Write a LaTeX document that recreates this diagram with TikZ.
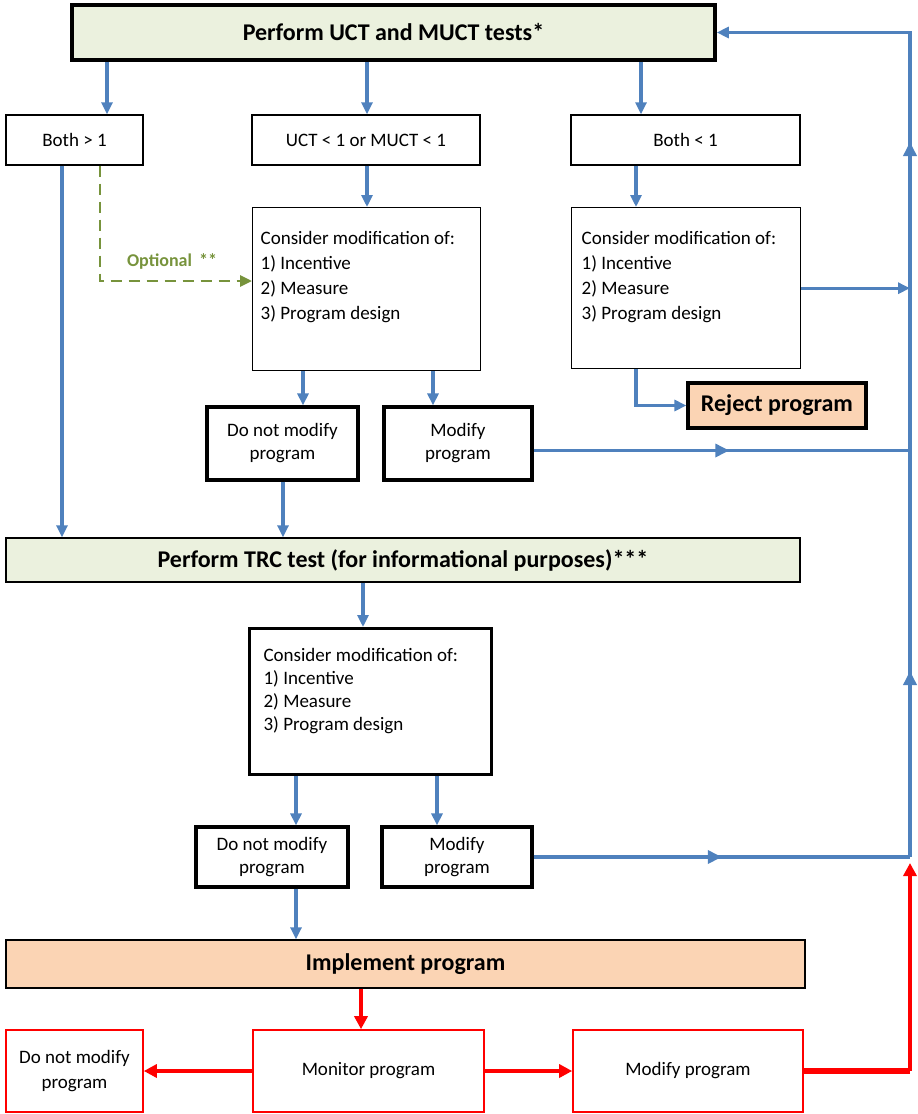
\documentclass[tikz,border=0pt]{standalone}
\usepackage{fontspec}
\setmainfont{Carlito}
\usetikzlibrary{arrows.meta,decorations.markings}
\definecolor{myblue}{RGB}{79,129,189}
\definecolor{mygreen}{RGB}{119,147,60}
\definecolor{boxgreen}{RGB}{235,241,222}
\definecolor{peach}{RGB}{251,212,180}
\definecolor{myred}{RGB}{255,0,0}
\newcommand\considertext[5]{\begin{minipage}[c][#2][t]{#1}\setlength\parindent{0pt}\leftskip=#3\relax\fontsize{19}{#4}\selectfont\rule{0pt}{#5}Consider modification of:\\1) Incentive\\2) Measure\\3) Program design\par\end{minipage}}
\begin{document}
\begin{tikzpicture}[x=1pt,y=-1pt,
  tip/.style={-{Triangle[length=12pt,width=11pt]}},
  thinbox/.style={draw=black,line width=1.4pt,inner sep=0pt,align=center,font=\fontsize{19}{23}\selectfont},
  thickbox/.style={draw=black,line width=3.2pt,inner sep=0pt,align=center,font=\fontsize{19}{23}\selectfont},
  redbox/.style={draw=myred,line width=1.6pt,inner sep=0pt,align=center,font=\fontsize{19}{25}\selectfont},
  titlebox/.style={draw=black,inner sep=0pt,align=center,font=\bfseries\fontsize{24}{28}\selectfont},
  bline/.style={draw=myblue,line width=3.2pt},
  barrow/.style={bline,tip},
  rline/.style={draw=myred,line width=3.6pt},
  rarrow/.style={rline,-{Triangle[length=13pt,width=13pt]}},
  garrow/.style={draw=mygreen,line width=2.8pt,dash pattern=on 11pt off 7pt,-{Triangle[length=12pt,width=11pt]}},
  bmid/.style={postaction={decorate},decoration={markings,mark=at position #1 with {\arrow[myblue]{Triangle[length=14pt,width=13pt]}}}},
]
\useasboundingbox (0,0) rectangle (918,1114);

% nodes
\node[titlebox, fill=boxgreen, line width=3.6pt, minimum width=643pt, minimum height=55pt] (top) at (393.5,32.5) {Perform UCT and MUCT tests*};
\node[thinbox, minimum width=137pt, minimum height=50pt] (b1) at (74.5,140) {Both > 1};
\node[thinbox, minimum width=228pt, minimum height=50pt] (uct) at (366,140) {UCT < 1 or MUCT < 1};
\node[thinbox, minimum width=229pt, minimum height=50pt] (b2) at (685.5,140) {Both < 1};
\node[draw=black, line width=1.4pt, inner sep=0pt, anchor=north west] (cons1) at (252,207) {\considertext{228pt}{163pt}{8pt}{25pt}{37pt}};
\node[draw=black, line width=1.4pt, inner sep=0pt, anchor=north west] (cons2) at (571,207) {\considertext{229pt}{161pt}{10pt}{25pt}{37pt}};
\node[thickbox, minimum width=151pt, minimum height=73pt] (dnm1) at (282.5,443.5) {Do not modify\\program};
\node[thickbox, minimum width=148pt, minimum height=73pt] (mod1) at (458,443.5) {Modify\\program};
\node[thickbox, fill=peach, font=\bfseries\fontsize{24}{28}\selectfont, minimum width=178pt, minimum height=45pt] (reject) at (777,405.5) {Reject program};
\node[titlebox, fill=boxgreen, line width=1.4pt, minimum width=794pt, minimum height=44pt] (trc) at (403,560) {Perform TRC test (for informational purposes)***};
\node[draw=black, line width=3.2pt, inner sep=0pt, anchor=north west] (cons3) at (248,627) {\considertext{242pt}{146pt}{14pt}{23pt}{33pt}};
\node[thickbox, minimum width=152pt, minimum height=60pt] (dnm2) at (272,857) {Do not modify\\program};
\node[thickbox, minimum width=150pt, minimum height=60pt] (mod2) at (457,857) {Modify\\program};
\node[titlebox, fill=peach, line width=1.4pt, minimum width=799pt, minimum height=48pt] (impl) at (405.5,964) {Implement program};
\node[redbox, minimum width=137pt, minimum height=82pt] (dnm3) at (74.5,1071) {Do not modify\\program};
\node[redbox, minimum width=231pt, minimum height=82pt] (mon) at (368.5,1071) {Monitor program};
\node[redbox, minimum width=230pt, minimum height=82pt] (mod3) at (688,1071) {Modify program};
\node[text=mygreen, font=\bfseries\fontsize{18}{20}\selectfont, inner sep=0pt] (opt) at (172,261) {Optional \,**};

% column / row coordinates
\coordinate (cA) at (107,0);
\coordinate (cB) at (367,0);
\coordinate (cC) at (641,0);
\coordinate (cC2) at (636,0);
\coordinate (cD) at (62,0);
\coordinate (cE) at (100,0);
\coordinate (cF) at (303,0);
\coordinate (cG) at (433,0);
\coordinate (cH) at (283,0);
\coordinate (cI) at (363,0);
\coordinate (cJ) at (296,0);
\coordinate (cK) at (437,0);
\coordinate (cL) at (361,0);
\coordinate (cR) at (910,0);
\coordinate (rD) at (0,281);
\coordinate (m1e) at ([yshift=-7pt]mod1.east);
\coordinate (jB) at (910,857);
\coordinate (jR) at (910,863);

% connectors
\draw[barrow] (top.south -| cA) -- (b1.north -| cA);
\draw[barrow] (top.south -| cB) -- (uct.north -| cB);
\draw[barrow] (top.south -| cC) -- (b2.north -| cC);
\draw[barrow] (uct.south -| cB) -- (cons1.north -| cB);
\draw[barrow] (b2.south -| cC2) -- (cons2.north -| cC2);
\draw[barrow] (b1.south -| cD) -- (trc.north -| cD);
\draw[garrow] (b1.south -| cE) |- (cons1.west |- rD);
\draw[barrow] (cons1.south -| cF) -- (dnm1.north -| cF);
\draw[barrow] (cons1.south -| cG) -- (mod1.north -| cG);
\draw[barrow] (cons2.south -| cC2) |- (reject.west);
\draw[barrow] (cons2.east) -- (cons2.east -| cR);
\draw[bline, bmid=0.52] (m1e) -- (m1e -| cR);
\draw[barrow] (dnm1.south -| cH) -- (trc.north -| cH);
\draw[barrow] (trc.south -| cI) -- (cons3.north -| cI);
\draw[barrow] (cons3.south -| cJ) -- (dnm2.north -| cJ);
\draw[barrow] (cons3.south -| cK) -- (mod2.north -| cK);
\draw[barrow] (dnm2.south -| cJ) -- (impl.north -| cJ);
\draw[bline, line width=3.6pt, bmid=0.5] (mod2.east) -- (jB);
\draw[bline, line width=3.6pt, tip,
  postaction={decorate},
  decoration={markings,
    mark=at position 186pt with {\arrow[myblue]{Triangle[length=14pt,width=13pt]}},
    mark=at position 715pt with {\arrow[myblue]{Triangle[length=14pt,width=13pt]}}}]
  (jB) -- (cR |- top.east) -- (top.east);
\draw[rarrow] (impl.south -| cL) -- (mon.north -| cL);
\draw[rarrow] (mon.west) -- (dnm3.east);
\draw[rarrow] (mon.east) -- (mod3.west);
\draw[rline, line width=6pt] (mod3.east) -| (cR |- mod3.east);
\draw[rarrow] (cR |- mod3.east) -- (jR);
\end{tikzpicture}
\end{document}
